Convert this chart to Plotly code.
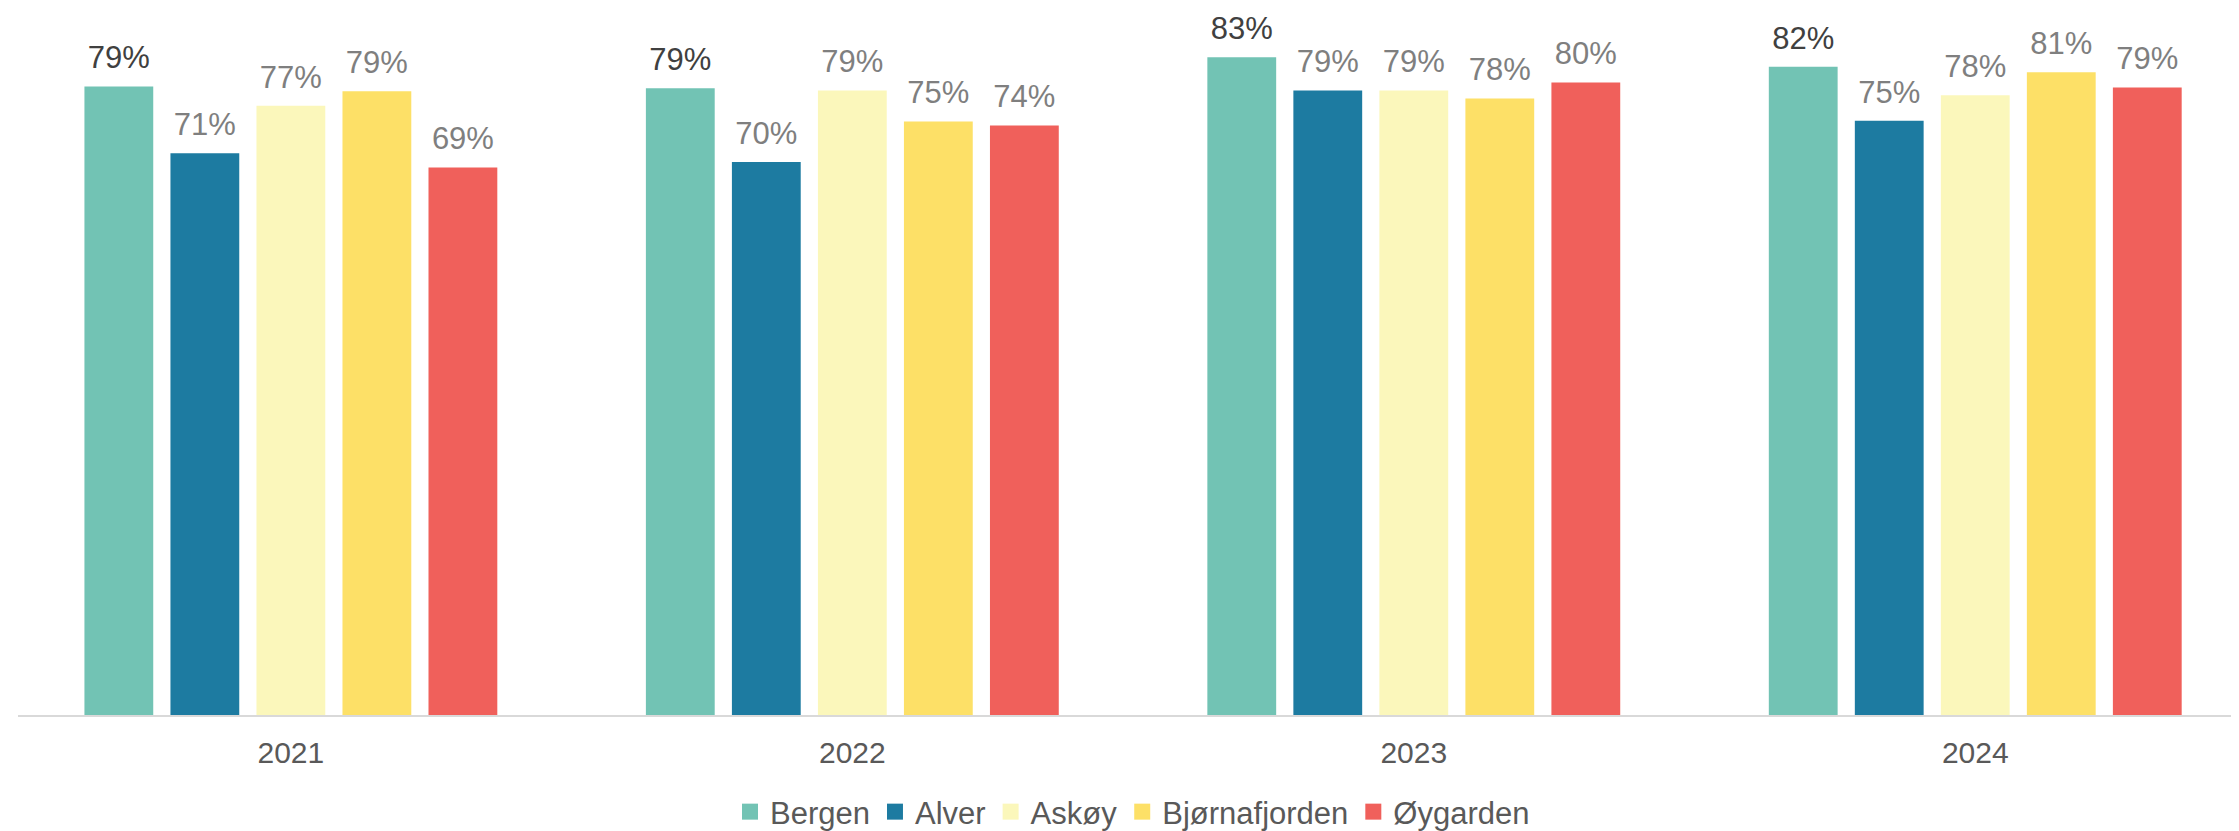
import plotly.graph_objects as go

years = ["2021", "2022", "2023", "2024"]
kommuner = ["Bergen", "Alver", "Askøy", "Bjørnafjorden", "Øygarden"]

bergen = [0.792, 0.790, 0.829, 0.817]
alver = [0.708, 0.697, 0.787, 0.749]
askoy = [0.768, 0.787, 0.787, 0.781]
bjornafjorden = [0.786, 0.748, 0.777, 0.810]
oygarden = [0.690, 0.743, 0.797, 0.791]

series = [bergen, alver, askoy, bjornafjorden, oygarden]
bar_colors = ["#72C3B4", "#1D7BA1", "#FBF7BB", "#FDE067", "#F0605B"]
label_colors = ["#404040", "#7F7F7F", "#7F7F7F", "#7F7F7F", "#7F7F7F"]

FONT = "Liberation Sans, Arial, sans-serif"

fig = go.Figure()

for name, values, color in zip(kommuner, series, bar_colors):
    fig.add_trace(
        go.Bar(
            x=years,
            y=values,
            name=name,
            legendgroup=name,
            offsetgroup=name,
            showlegend=False,
            marker=dict(color=color, line=dict(width=0)),
        )
    )

# value labels, placed over each bar via grouped scatter
for name, values, lc in zip(kommuner, series, label_colors):
    fig.add_trace(
        go.Scatter(
            x=years,
            y=values,
            offsetgroup=name,
            mode="markers+text",
            text=[f"{v:.0%}" for v in values],
            textposition="top center",
            textfont=dict(family=FONT, size=31, color=lc),
            marker=dict(size=15, opacity=0),
            showlegend=False,
            hoverinfo="skip",
            cliponaxis=False,
        )
    )

# legend entries with square swatches
for name, color in zip(kommuner, bar_colors):
    fig.add_trace(
        go.Scatter(
            x=[None],
            y=[None],
            name=name,
            legendgroup=name,
            mode="markers",
            marker=dict(symbol="square", size=16, color=color),
        )
    )

fig.update_layout(
    width=2239,
    height=831,
    template="plotly_white",
    barmode="group",
    scattermode="group",
    bargap=0.234,
    bargroupgap=0.2,
    margin=dict(l=10, r=0, t=4, b=117),
    paper_bgcolor="white",
    plot_bgcolor="white",
    font=dict(family=FONT, size=30, color="#595959"),
    legend=dict(
        orientation="h",
        x=0.5,
        xanchor="center",
        y=-0.138,
        yanchor="middle",
        font=dict(family=FONT, size=31, color="#595959"),
    ),
    xaxis=dict(
        type="category",
        range=[-0.486, 3.484],
        showline=True,
        linecolor="#D9D9D9",
        linewidth=2,
        showgrid=False,
        ticks="outside",
        ticklen=10,
        tickcolor="rgba(0,0,0,0)",
        tickfont=dict(family=FONT, size=30, color="#595959"),
    ),
    yaxis=dict(
        range=[0, 0.886],
        visible=False,
        showgrid=False,
        zeroline=False,
    ),
)

fig.write_html("out.html")
